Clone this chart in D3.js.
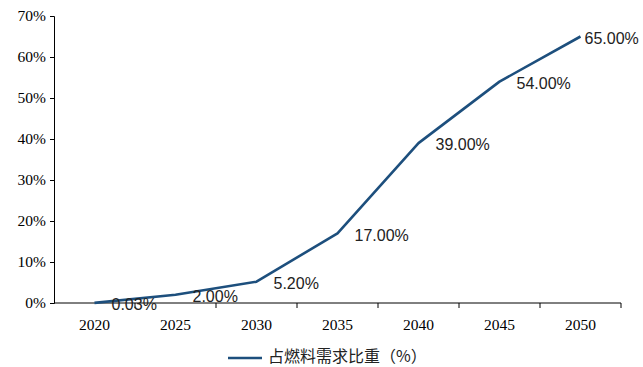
<!DOCTYPE html>
<html>
<head>
<meta charset="utf-8">
<script src="https://cdn.jsdelivr.net/npm/d3@7"></script>
<style>
  body { margin: 0; background: #fff; }
  svg { display: block; }
</style>
</head>
<body>
<svg id="chart" width="643" height="367"></svg>
<script>
const years = ["2020", "2025", "2030", "2035", "2040", "2045", "2050"];
const shares = [0.03, 2.0, 5.2, 17.0, 39.0, 54.0, 65.0];
const yTicks = [0, 10, 20, 30, 40, 50, 60, 70];
const seriesName = "占燃料需求比重（%）";

const lineColor = "#1d4f7d";
const margin = { top: 16, right: 22, bottom: 64, left: 54 };
const width = 643, height = 367;

const svg = d3.select("#chart");

const x = d3.scaleBand()
	.domain(years)
	.range([margin.left, width - margin.right]);

const y = d3.scaleLinear()
	.domain([0, 70])
	.range([height - margin.bottom, margin.top]);

// y axis
const yAxis = svg.append("g")
	.attr("transform", `translate(${margin.left},0)`)
	.call(d3.axisLeft(y).tickValues(yTicks).tickFormat((d) => d + "%").tickSize(4).tickPadding(4));
yAxis.select(".domain").attr("stroke", "#000");
yAxis.selectAll("text")
	.attr("font-family", "Liberation Serif, serif")
	.attr("font-size", 15.5)
	.attr("fill", "#000");

// x axis, ticks on band boundaries like a category axis
const xAxis = svg.append("g")
	.attr("transform", `translate(0,${y(0)})`);
xAxis.append("line")
	.attr("x1", margin.left).attr("x2", width - margin.right)
	.attr("stroke", "#000");
xAxis.selectAll(".tick")
	.data(years)
	.enter().append("line")
	.attr("x1", (d) => x(d) + x.bandwidth())
	.attr("x2", (d) => x(d) + x.bandwidth())
	.attr("y1", 0).attr("y2", 5)
	.attr("stroke", "#000");
xAxis.selectAll(".lbl")
	.data(years)
	.enter().append("text")
	.attr("x", (d) => x(d) + x.bandwidth() / 2)
	.attr("y", 27)
	.attr("text-anchor", "middle")
	.attr("font-family", "Liberation Serif, serif")
	.attr("font-size", 15.5)
	.text((d) => d);

// line
const pts = years.map((yr, i) => ({ year: yr, v: shares[i] }));
const line = d3.line()
	.x((d) => x(d.year) + x.bandwidth() / 2)
	.y((d) => y(d.v));

svg.append("path")
	.datum(pts)
	.attr("d", line)
	.attr("fill", "none")
	.attr("stroke", lineColor)
	.attr("stroke-width", 2.6)
	.attr("stroke-linejoin", "round");

// data labels
svg.selectAll(".dl")
	.data(pts)
	.enter().append("text")
	.attr("x", (d, i) => x(d.year) + x.bandwidth() / 2 + (i === pts.length - 1 ? 4 : 17))
	.attr("y", (d) => y(d.v) + 3)
	.attr("dominant-baseline", "middle")
	.attr("font-family", "Liberation Sans, Arial, sans-serif")
	.attr("font-size", 16)
	.attr("fill", "#222")
	.text((d) => d.v.toFixed(2) + "%");

// legend
const lg = svg.append("g").attr("transform", "translate(228,358)");
lg.append("line")
	.attr("x1", 0).attr("x2", 34)
	.attr("stroke", lineColor).attr("stroke-width", 2.6);
lg.append("text")
	.attr("x", 40).attr("y", 0)
	.attr("dominant-baseline", "middle")
	.attr("font-family", "Noto Sans CJK SC, sans-serif")
	.attr("font-size", 16)
	.attr("fill", "#222")
	.text(seriesName);
</script>
</body>
</html>
